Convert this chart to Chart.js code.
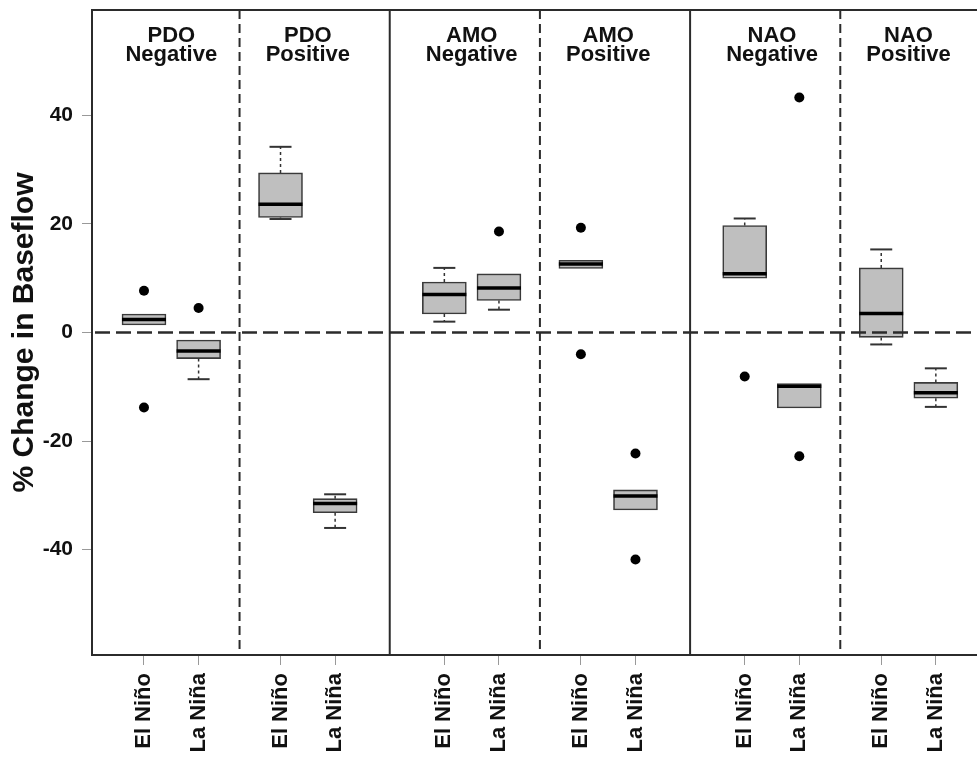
<!DOCTYPE html>
<html>
<head>
<meta charset="utf-8">
<script src="https://cdn.jsdelivr.net/npm/chart.js@4.4.0/dist/chart.umd.min.js"></script>
<style>
  html, body { margin: 0; padding: 0; background: #fff; overflow: hidden; }
  #wrap { width: 1000px; height: 757px; }
</style>
</head>
<body>
<div id="wrap"><canvas id="grafico" width="1000" height="757"></canvas></div>
<script>
// Posiciones de cada caja en el eje x (unidades del eje)
const posiciones = [1, 2, 3.5, 4.5, 6.5, 7.5, 9, 10, 12, 13, 14.5, 15.5];
const etiquetasX = ['El Niño', 'La Niña', 'El Niño', 'La Niña', 'El Niño', 'La Niña',
                    'El Niño', 'La Niña', 'El Niño', 'La Niña', 'El Niño', 'La Niña'];

// Estadísticos (% cambio en flujo base)
const q1 =       [1.4, -4.8, 21.2, -33.2, 3.4, 5.9, 11.8, -32.7, 10.0, -13.9, -0.9, -12.1];
const mediana =  [2.4, -3.4, 23.6, -31.5, 7.0, 8.2, 12.6, -30.1, 10.8, -9.9, 3.5, -11.1];
const q3 =       [3.4, -1.4, 29.4, -30.6, 9.3, 10.8, 13.3, -29.0, 19.7, -9.4, 11.9, -9.2];
const bigoteSup = [null, null, 34.2, -29.8, 11.9, null, null, null, 21.0, null, 15.3, -6.6];
const bigoteInf = [null, -8.6, 20.9, -36.0, 2.0, 4.2, null, null, null, null, -2.2, -13.7];
const atipicos = [[7.7, -13.8], [4.5], [], [], [], [18.6], [19.3, -4.0], [-22.3, -41.8],
                  [-8.1], [43.3, -22.8], [], []];

// Grupos y divisiones
const grupos = [['PDO', 'Negative'], ['PDO', 'Positive'], ['AMO', 'Negative'],
                ['AMO', 'Positive'], ['NAO', 'Negative'], ['NAO', 'Positive']];
const divisiones = [2.75, 5.5, 8.25, 11, 13.75];
const divisionPunteada = [true, false, true, false, true];
const ticksY = [-40, -20, 0, 20, 40];

const fuente = "'Liberation Sans', Arial, Helvetica, sans-serif";

// Construir datos para la librería
const cajas = posiciones.map((x, i) => ({ x: x, y: [q1[i], q3[i]] }));
const medianas = posiciones.map((x, i) => ({ x: x, y: mediana[i] }));
const tapas = [];
const tallos = [];
posiciones.forEach((x, i) => {
  if (bigoteSup[i] !== null) {
    tapas.push({ x: x, y: bigoteSup[i] });
    tallos.push({ x: x, y: q3[i] }, { x: x, y: bigoteSup[i] }, { x: x, y: null });
  }
  if (bigoteInf[i] !== null) {
    tapas.push({ x: x, y: bigoteInf[i] });
    tallos.push({ x: x, y: q1[i] }, { x: x, y: bigoteInf[i] }, { x: x, y: null });
  }
});
const puntos = [];
posiciones.forEach((x, i) => atipicos[i].forEach(v => puntos.push({ x: x, y: v })));

// Plugin: marco, divisiones, línea cero y títulos de grupo
const marcoPlugin = {
  id: 'marco',
  beforeDatasetsDraw(chart) {
    const { ctx, chartArea: a, scales: { x } } = chart;
    ctx.save();
    ctx.strokeStyle = '#2b2b2b';
    ctx.lineWidth = 2;
    divisiones.forEach((d, i) => {
      const px = x.getPixelForValue(d);
      ctx.setLineDash(divisionPunteada[i] ? [9, 5] : []);
      ctx.beginPath();
      ctx.moveTo(px, a.top);
      ctx.lineTo(px, a.bottom);
      ctx.stroke();
    });
    ctx.restore();
  },
  afterDatasetsDraw(chart) {
    const { ctx, chartArea: a, scales: { x, y } } = chart;
    ctx.save();
    ctx.strokeStyle = '#2b2b2b';
    // línea de cero, encima de las cajas
    const y0 = y.getPixelForValue(0);
    ctx.lineWidth = 2.5;
    ctx.setLineDash([15, 6]);
    ctx.beginPath();
    ctx.moveTo(a.left + 3, y0);
    ctx.lineTo(a.right, y0);
    ctx.stroke();
    // marco
    ctx.lineWidth = 2;
    ctx.setLineDash([]);
    ctx.strokeRect(a.left, a.top, a.right - a.left, a.bottom - a.top);
    // títulos de grupo
    ctx.fillStyle = '#111';
    ctx.font = 'bold 22px ' + fuente;
    ctx.textAlign = 'center';
    ctx.textBaseline = 'middle';
    grupos.forEach((g, i) => {
      const cx = x.getPixelForValue((posiciones[2 * i] + posiciones[2 * i + 1]) / 2);
      ctx.fillText(g[0], cx, a.top + 26);
      ctx.fillText(g[1], cx, a.top + 45);
    });
    ctx.restore();
  }
};

const ctx = document.getElementById('grafico').getContext('2d');

new Chart(ctx, {
  type: 'bar',
  data: {
    datasets: [
      {
        type: 'scatter',
        data: puntos,
        pointStyle: 'circle',
        pointRadius: 5,
        pointBackgroundColor: '#000',
        pointBorderWidth: 0,
        order: 1
      },
      {
        type: 'scatter',
        data: medianas,
        pointStyle: 'line',
        pointRadius: 22,
        pointBorderColor: '#000',
        pointBorderWidth: 3.5,
        order: 2
      },
      {
        type: 'scatter',
        data: tapas,
        pointStyle: 'line',
        pointRadius: 11,
        pointBorderColor: '#333',
        pointBorderWidth: 2,
        order: 3
      },
      {
        type: 'line',
        data: tallos,
        borderColor: '#333',
        borderWidth: 1.5,
        borderDash: [3, 3],
        pointRadius: 0,
        spanGaps: false,
        order: 4
      },
      {
        type: 'bar',
        data: cajas,
        backgroundColor: '#bfbfbf',
        borderColor: '#3a3a3a',
        borderWidth: 1.6,
        borderSkipped: false,
        barThickness: 44,
        order: 5
      }
    ]
  },
  options: {
    responsive: false,
    animation: false,
    layout: { autoPadding: false, padding: { top: 10, right: 9, left: 0, bottom: 0 } },
    plugins: {
      legend: { display: false },
      tooltip: { enabled: false }
    },
    scales: {
      x: {
        type: 'linear',
        min: 0.048,
        max: 16.51,
        offset: false,
        afterBuildTicks: s => { s.ticks = posiciones.map(v => ({ value: v })); },
        afterFit: s => { s.height = 102; s.paddingLeft = 0; s.paddingRight = 0; },
        grid: { display: true, drawOnChartArea: false, drawTicks: true, tickLength: 10, color: '#999', offset: false },
        border: { display: false },
        ticks: {
          autoSkip: false,
          minRotation: 90,
          maxRotation: 90,
          padding: 8,
          color: '#111',
          font: { family: fuente, size: 22, weight: 'bold' },
          callback: v => etiquetasX[posiciones.indexOf(v)]
        }
      },
      y: {
        min: -59.4,
        max: 59.4,
        afterBuildTicks: s => { s.ticks = ticksY.map(v => ({ value: v })); },
        afterFit: s => { s.width = 92; s.paddingTop = 0; s.paddingBottom = 0; },
        grid: { display: true, drawOnChartArea: false, drawTicks: true, tickLength: 10, color: '#999' },
        border: { display: false },
        ticks: {
          padding: 9,
          color: '#111',
          font: { family: fuente, size: 21, weight: 'bold' },
          callback: v => String(v)
        },
        title: {
          display: true,
          text: '% Change in Baseflow',
          color: '#111',
          padding: { top: 7, bottom: 0 },
          font: { family: fuente, size: 30, weight: 'bold' }
        }
      }
    }
  },
  plugins: [marcoPlugin]
});
</script>
</body>
</html>
